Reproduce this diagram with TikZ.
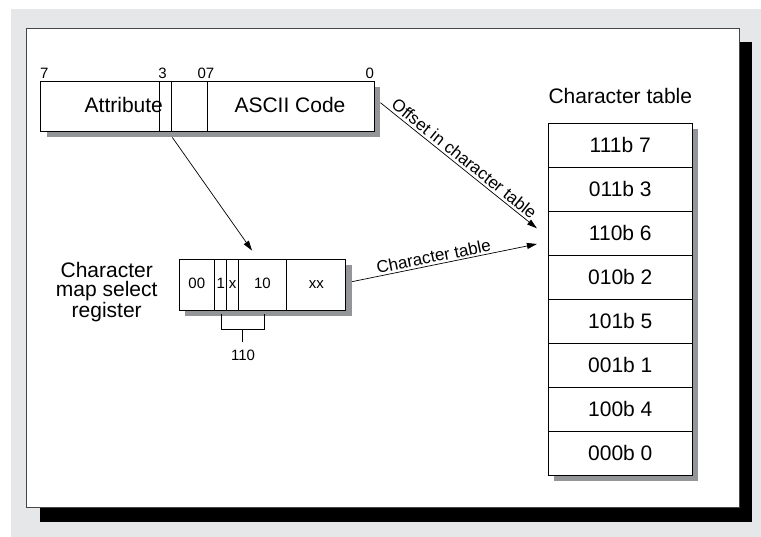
\documentclass[tikz,border=0pt]{standalone}
\usepackage{fontspec}
\setmainfont{Liberation Sans}
\usepackage{tikz}
\usetikzlibrary{arrows.meta,positioning,shadows}
\definecolor{panelgray}{RGB}{230,231,232}
\definecolor{shadegray}{RGB}{147,149,152}
\definecolor{framegray}{RGB}{70,70,70}

\begin{document}
\begin{tikzpicture}[x=1pt,y=-1pt,
  big/.style={font=\fontsize{21}{19.5}\selectfont},
  mid/.style={font=\fontsize{17}{17}\selectfont},
  tiny/.style={font=\fontsize{15}{15}\selectfont},
  regbox/.style={draw,line width=0.8pt,fill=white,inner sep=0pt,
    drop shadow={fill=shadegray,opacity=1,shadow xshift=6pt,shadow yshift=-6pt}},
  cell/.style={draw,line width=0.8pt,fill=white,minimum width=144pt,minimum height=44pt,inner sep=0pt,big},
  arr/.style={-{Triangle[length=10pt,width=6pt]},line width=0.7pt}]
% page and frame
\useasboundingbox[fill=white] (0,0) rectangle (761,537);
\fill[panelgray] (11,9) rectangle (761,537);
\fill[black] (40,41.7) rectangle (752.3,521.7);
\draw[framegray,fill=white,line width=0.8pt] (26.7,28.3) rectangle (739,507.3);
% character/attribute word
\node[regbox,minimum width=333.3pt,minimum height=50pt] (byte) at (207.35,106) {};
\foreach \d in {159.3,171.7,207.3}
  \draw[line width=0.8pt] (\d,81) -- (\d,131);
\node[big,anchor=base] (attr) at (123.8,112.7) {Attribute};
\node[big,anchor=base] (ascii) at (290,112.7) {ASCII Code};
\node[tiny,anchor=base] (bsev) at (44.3,78.3) {7};
\node[tiny,anchor=base] (bthree) at (162.5,78.3) {3};
\node[tiny,anchor=base] (bzs) at (206,78.3) {07};
\node[tiny,anchor=base] (bzero) at (369.7,78.3) {0};
% map select register
\node[big,align=center] (cmsr) at (106.7,292) {Character\\map select\\register};
\node[regbox,minimum width=166.7pt,minimum height=50.7pt] (reg) at (262.35,284.65) {};
\foreach \d in {214.7,226.7,238.7,286.3}
  \draw[line width=0.8pt] (\d,259.3) -- (\d,310);
\foreach \t/\x [count=\i] in {00/196.8,1/220.7,x/232.7,10/262.5,xx/316.3}
  \node[tiny,anchor=base] (fld\i) at (\x,288.3) {\t};
\draw[line width=0.7pt] (221.3,314) |- (264.3,329.3) -- (264.3,314);
\draw[line width=0.7pt] (242.7,329.3) -- (242.7,341.7);
\node[tiny,anchor=base] (sel) at (243,360.7) {110};
% character table
\node[big,anchor=base] (title) at (620.3,103.3) {Character table};
\node[regbox,minimum width=144pt,minimum height=352pt] (tab) at (620.3,299.3) {};
\foreach \t [count=\i] in {111b 7,011b 3,110b 6,010b 2,101b 5,001b 1,100b 4,000b 0}
  \node[cell] (row\i) at (620.3,{145.3+44*(\i-1)}) {\t};
% connectors
\draw[arr] ([xshift=132pt,yshift=-6pt]byte.south west) -- ([xshift=-10.3pt,yshift=8.3pt]reg.north);
\draw[arr] ([xshift=6pt,yshift=3.3pt]byte.east) -- node[mid,sloped,above,midway,inner sep=2.5pt] {Offset in character table} ([xshift=-11pt,yshift=5pt]row3.west);
\draw[arr] ([xshift=6pt,yshift=3pt]reg.east) -- node[mid,sloped,above,pos=0.45,inner sep=2pt] {Character table} ([xshift=-11pt,yshift=-10.7pt]row3.west);
\end{tikzpicture}
\end{document}
